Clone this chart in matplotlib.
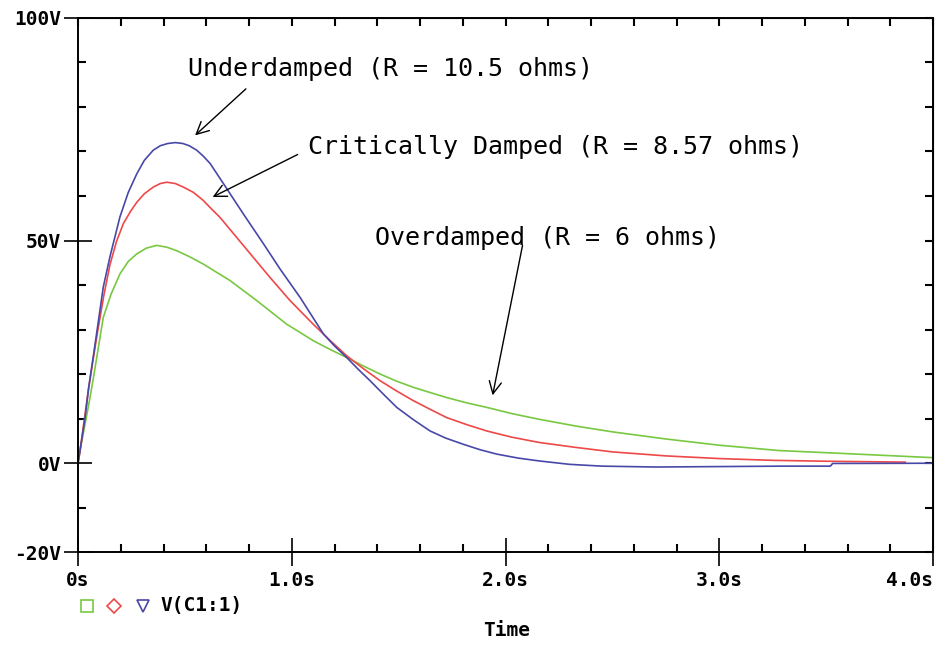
import matplotlib
matplotlib.use("Agg")
import matplotlib.pyplot as plt
from matplotlib.ticker import MultipleLocator, FixedLocator

# values (time in s, voltage in V)
t_under = [0, 0.01, 0.033, 0.05, 0.08, 0.1, 0.118, 0.15, 0.196, 0.235, 0.275, 0.31, 0.352,
           0.385, 0.42, 0.455, 0.49, 0.52, 0.555, 0.585, 0.618, 0.68, 0.773, 0.867, 0.945,
           1.039, 1.148, 1.2, 1.257, 1.31, 1.366, 1.43, 1.491, 1.57, 1.647, 1.72, 1.803,
           1.88, 1.959, 2.06, 2.16, 2.3, 2.45, 2.7, 3.0, 3.3, 3.52, 3.53, 4.0]
v_under = [0, 3.0, 10.2, 17.0, 26.8, 33.5, 39.5, 46.5, 55.3, 60.8, 65.0, 68.0, 70.3,
           71.3, 71.8, 72.0, 71.8, 71.3, 70.3, 69.0, 67.3, 62.8, 56.0, 49.3, 43.6,
           37.2, 29.0, 26.3, 23.7, 21.1, 18.5, 15.4, 12.5, 9.7, 7.2, 5.6, 4.2,
           3.0, 2.0, 1.1, 0.45, -0.3, -0.7, -0.9, -0.8, -0.7, -0.7, -0.1, -0.05]

t_crit = [0, 0.01, 0.03, 0.05, 0.087, 0.12, 0.15, 0.18, 0.212, 0.245, 0.275, 0.31, 0.352,
          0.385, 0.415, 0.455, 0.493, 0.54, 0.586, 0.62, 0.664, 0.742, 0.82, 0.898, 0.992,
          1.10, 1.18, 1.257, 1.335, 1.413, 1.49, 1.569, 1.65, 1.725, 1.82, 1.912, 2.03,
          2.16, 2.33, 2.5, 2.75, 3.0, 3.25, 3.5, 3.87]
v_crit = [0, 3.0, 10.0, 17.0, 28.2, 37.5, 44.7, 49.8, 53.8, 56.5, 58.6, 60.5, 62.0,
          62.8, 63.1, 62.8, 62.0, 60.8, 59.0, 57.3, 55.2, 50.7, 46.2, 41.7, 36.5,
          31.2, 27.5, 24.1, 21.2, 18.5, 16.2, 14.0, 12.0, 10.2, 8.6, 7.2, 5.8,
          4.6, 3.5, 2.5, 1.6, 1.0, 0.6, 0.4, 0.2]

t_over = [0, 0.01, 0.03, 0.056, 0.08, 0.118, 0.155, 0.196, 0.235, 0.275, 0.32, 0.368,
          0.415, 0.462, 0.52, 0.586, 0.711, 0.836, 0.976, 1.04, 1.10, 1.18, 1.257, 1.335,
          1.413, 1.49, 1.569, 1.65, 1.725, 1.82, 1.912, 2.03, 2.16, 2.33, 2.5, 2.75, 3.0,
          3.28, 3.6, 4.0]
v_over = [0, 3.0, 8.0, 14.7, 21.5, 32.7, 38.0, 42.5, 45.3, 47.0, 48.3, 48.9,
          48.5, 47.7, 46.4, 44.7, 41.0, 36.5, 31.2, 29.3, 27.5, 25.5, 23.7, 21.8,
          20.0, 18.4, 17.0, 15.8, 14.7, 13.5, 12.5, 11.1, 9.8, 8.3, 7.0, 5.4, 4.0,
          2.8, 2.1, 1.2]

x_ticks = [0, 1, 2, 3, 4]
x_labels = ["0s", "1.0s", "2.0s", "3.0s", "4.0s"]
y_ticks = [-20, 0, 50, 100]
y_labels = ["-20V", "0V", "50V", "100V"]

green = "#78c841"
red = "#ee4848"
blue = "#4848a8"
mono = "DejaVu Sans Mono"

fig = plt.figure(figsize=(9.38, 6.47), dpi=100)
ax = fig.add_axes([0.0832, 0.1468, 0.9115, 0.8254])

ax.plot(t_over, v_over, color=green, lw=1.2)
ax.plot(t_crit, v_crit, color=red, lw=1.2)
ax.plot(t_under, v_under, color=blue, lw=1.2)

ax.set_xlim(0, 4)
ax.set_ylim(-20, 100)

for s in ax.spines.values():
    s.set_linewidth(1.4)

ax.xaxis.set_major_locator(FixedLocator(x_ticks))
ax.xaxis.set_minor_locator(MultipleLocator(0.2))
ax.yaxis.set_major_locator(FixedLocator(y_ticks))
ax.yaxis.set_minor_locator(MultipleLocator(10))
ax.set_xticklabels(x_labels, family=mono, fontweight="bold", fontsize=14)
ax.set_yticklabels(y_labels, family=mono, fontweight="bold", fontsize=14)
ax.get_xticklabels()[-1].set_ha("right")

ax.tick_params(which="major", direction="inout", length=20, width=1.2)
ax.tick_params(axis="x", which="major", pad=4)
ax.tick_params(axis="y", which="major", pad=2)
ax.tick_params(which="minor", direction="in", length=6, width=1.5)

# top and right: small inward ticks only
top = ax.secondary_xaxis("top")
top.xaxis.set_major_locator(MultipleLocator(0.2))
top.tick_params(direction="in", length=6, width=1.5, labeltop=False)
right = ax.secondary_yaxis("right")
right.yaxis.set_major_locator(MultipleLocator(10))
right.tick_params(direction="in", length=6, width=1.5, labelright=False)

# annotations
arrow = dict(arrowstyle="->", color="black", lw=1.0, mutation_scale=22)
ax.text(0.515, 88.5, "Underdamped (R = 10.5 ohms)", family=mono, fontsize=18, va="center")
ax.annotate("", xy=(0.538, 73.2), xytext=(0.795, 84.5), arrowprops=arrow)
ax.text(1.076, 70.9, "Critically Damped (R = 8.57 ohms)", family=mono, fontsize=18, va="center")
ax.annotate("", xy=(0.618, 59.5), xytext=(1.039, 69.6), arrowprops=arrow)
ax.text(1.389, 50.5, "Overdamped (R = 6 ohms)", family=mono, fontsize=18, va="center")
ax.annotate("", xy=(1.937, 14.6), xytext=(2.082, 49.5), arrowprops=arrow)

# probe legend under the axis
ly = 1 - 606 / 647
ax.plot([87 / 938], [ly], marker="s", ms=9, mfc="none", mec=green, mew=1.2,
        transform=fig.transFigure, clip_on=False)
ax.plot([114 / 938], [ly], marker="D", ms=7, mfc="none", mec=red, mew=1.2,
        transform=fig.transFigure, clip_on=False)
ax.plot([143 / 938], [ly], marker="v", ms=9, mfc="none", mec=blue, mew=1.2,
        transform=fig.transFigure, clip_on=False)
fig.text(160 / 938, ly, "V(C1:1)", family=mono, fontweight="bold", fontsize=14, va="center")

fig.text(507 / 938, 1 - 630 / 647, "Time", family=mono, fontweight="bold", fontsize=14,
         ha="center", va="center")

fig.savefig("out.png", dpi=100)
